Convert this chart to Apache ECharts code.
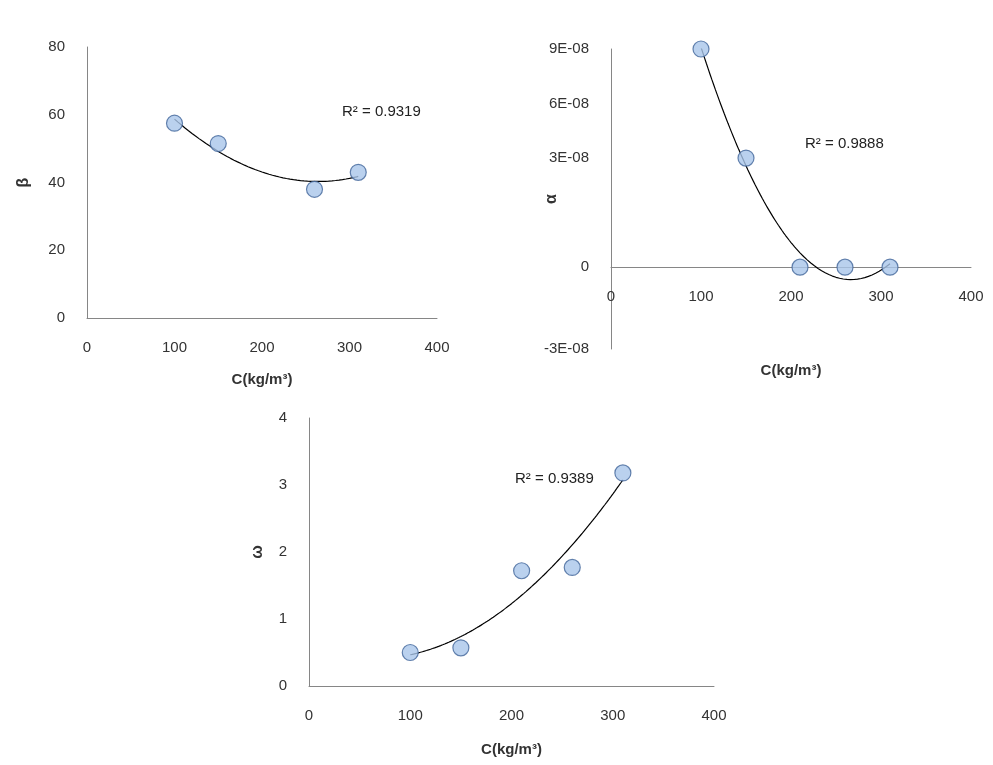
<!DOCTYPE html>
<html><head><meta charset="utf-8">
<script src="https://cdn.jsdelivr.net/npm/echarts@6/dist/echarts.min.js"></script>
<style>html,body{margin:0;background:#fff}#c{width:993px;height:765px}</style>
</head><body><div id="c"></div>
<script>
var betaX = [100, 150, 260, 310];
var betaY = [57.5, 51.5, 38, 43];
var alphaX = [100, 150, 210, 260, 310];
var alphaY = [8.0e-8, 4.0e-8, 0, 0, 0];
var omegaX = [100, 150, 210, 260, 310];
var omegaY = [0.5, 0.57, 1.72, 1.77, 3.18];
var r2Labels = ['R² = 0.9319', 'R² = 0.9888', 'R² = 0.9389'];
// tick labels as printed on the alpha axis (value in 1e-8 units -> text)
var alphaTicks = { '8': '9E-08', '6': '6E-08', '4': '3E-08', '0': '0', '-3': '-3E-08' };

// least squares quadratic fit (Excel polynomial trendline, order 2)
function polyFit2(xs, ys) {
    var s = [0,0,0,0,0], t = [0,0,0];
    for (var i = 0; i < xs.length; i++) {
        var p = 1;
        for (var k = 0; k < 5; k++) { s[k] += p; if (k < 3) t[k] += p * ys[i]; p *= xs[i]; }
    }
    var A = [[s[0],s[1],s[2],t[0]],[s[1],s[2],s[3],t[1]],[s[2],s[3],s[4],t[2]]];
    for (var c = 0; c < 3; c++) {
        for (var r = c + 1; r < 3; r++) {
            var f = A[r][c] / A[c][c];
            for (var j = c; j < 4; j++) A[r][j] -= f * A[c][j];
        }
    }
    var b = [0,0,0];
    for (var r = 2; r >= 0; r--) {
        var v = A[r][3];
        for (var j = r + 1; j < 3; j++) v -= A[r][j] * b[j];
        b[r] = v / A[r][r];
    }
    return b;
}
function trend(xs, ys) {
    var b = polyFit2(xs, ys), out = [];
    var x0 = xs[0], x1 = xs[xs.length - 1];
    for (var x = x0; x <= x1 + 0.01; x += 2) out.push([x, b[0] + b[1] * x + b[2] * x * x]);
    return out;
}
function pts(xs, ys) { return xs.map(function (x, i) { return [x, ys[i]]; }); }
function $ext(a, b) { var o = {}; for (var k in a) o[k] = a[k]; for (var k in b) o[k] = b[k]; return o; }

var font = 'Liberation Sans, Arial, sans-serif';
var lineCol = { color: '#868686', width: 1 };
var lbl = { color: '#333', fontSize: 15, fontFamily: font };
function xAx(idx, gap, offset) {
    return { gridIndex: idx, type: 'value', min: 0, max: 400, interval: 100, offset: offset || 0,
        axisLine: { show: true, onZero: false, lineStyle: lineCol }, axisTick: { show: false }, splitLine: { show: false },
        axisLabel: $ext(lbl, { margin: 22 }),
        name: 'C(kg/m³)', nameLocation: 'middle', nameGap: gap,
        nameTextStyle: { fontSize: 15, fontWeight: 'bold', color: '#333', fontFamily: font } };
}
function yAx(idx, min, max, interval, name, gap, fmt) {
    var ax = { gridIndex: idx, type: 'value', min: min, max: max, interval: interval,
        axisLine: { show: true, onZero: false, lineStyle: lineCol }, axisTick: { show: false }, splitLine: { show: false },
        axisLabel: $ext(lbl, { margin: 22 }),
        name: name, nameLocation: 'middle', nameGap: gap, nameRotate: 90, nameMoveOverlap: false,
        nameTextStyle: { fontSize: 16, fontWeight: 'bold', color: '#333', fontFamily: font } };
    if (fmt) ax.axisLabel.formatter = fmt;
    return ax;
}
var marker = { color: '#a9c6ea', borderColor: '#41659a', borderWidth: 1.2 };
function scat(i, data) { return { type: 'scatter', xAxisIndex: i, yAxisIndex: i, data: data, symbolSize: 16, itemStyle: marker, z: 3 }; }
function line(i, data) { return { type: 'line', xAxisIndex: i, yAxisIndex: i, data: data, showSymbol: false, lineStyle: { color: '#000', width: 1.2 }, z: 2 }; }

var chart = echarts.init(document.getElementById('c'));
chart.setOption({
    animation: false,
    grid: [
        { left: 87, right: 556, top: 47, bottom: 447 },
        { left: 611, right: 22, top: 49, bottom: 416 },
        { left: 309, right: 279, top: 418, bottom: 79 }
    ],
    xAxis: [xAx(0, 54), xAx(1, 96, -82), xAx(2, 56)],
    yAxis: [
        yAx(0, 0, 80, 20, 'β', 55),
        yAx(1, -3e-8, 8e-8, 1e-8, 'α', 51, function (v) {
            var k = String(Math.round(v * 1e8));
            return alphaTicks[k] !== undefined ? alphaTicks[k] : '';
        }),
        yAx(2, 0, 4, 1, 'ω', 43)
    ],
    graphic: [
        { type: 'text', left: 342, top: 104, style: { text: r2Labels[0], font: '15px ' + font, fill: '#222' } },
        { type: 'text', left: 805, top: 136, style: { text: r2Labels[1], font: '15px ' + font, fill: '#222' } },
        { type: 'text', left: 515, top: 471, style: { text: r2Labels[2], font: '15px ' + font, fill: '#222' } }
    ],
    series: [
        line(0, trend(betaX, betaY)), scat(0, pts(betaX, betaY)),
        line(1, trend(alphaX, alphaY)), scat(1, pts(alphaX, alphaY)),
        line(2, trend(omegaX, omegaY)), scat(2, pts(omegaX, omegaY))
    ]
});
</script></body></html>
